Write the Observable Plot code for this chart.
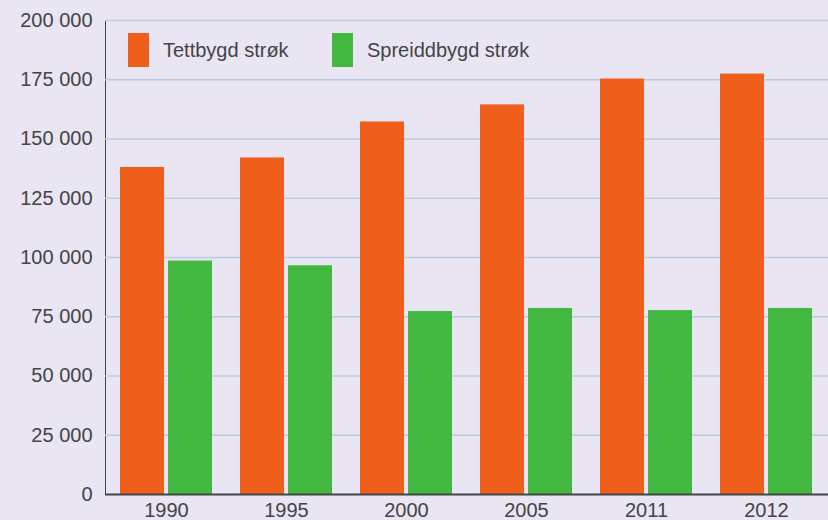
<!DOCTYPE html>
<html>
<head>
<meta charset="utf-8">
<script src="https://cdn.jsdelivr.net/npm/d3@7"></script>
<script src="https://cdn.jsdelivr.net/npm/@observablehq/plot@0.6"></script>
<style>
  html, body { margin: 0; padding: 0; background: #E9E5F3; }
  #wrap { position: relative; width: 828px; height: 520px; overflow: hidden; }
  .legend { position: absolute; top: 33px; display: flex; align-items: center; font-family: "Liberation Sans", Arial, sans-serif; font-size: 20px; color: #444; }
  .sw { width: 21px; height: 34px; margin-right: 14px; }
</style>
</head>
<body>
<div id="wrap"></div>
<script>
const years = ["1990", "1995", "2000", "2005", "2011", "2012"];
const seriesNames = ["Tettbygd strøk", "Spreiddbygd strøk"];
const tettbygd = [138000, 142000, 157200, 164400, 175300, 177400];
const spreiddbygd = [98500, 96500, 77200, 78500, 77600, 78500];
const yTicks = [0, 25000, 50000, 75000, 100000, 125000, 150000, 175000, 200000];
const colors = ["#F05E1C", "#43B840"];

const dataT = years.map((y, i) => ({year: y, value: tettbygd[i]}));
const dataS = years.map((y, i) => ({year: y, value: spreiddbygd[i]}));
const fmt = d => d3.format(",")(d).replace(/,/g, " ");

const chart = Plot.plot({
  width: 828,
  height: 520,
  marginLeft: 105,
  marginRight: 0,
  marginTop: 20,
  marginBottom: 26,
  style: {background: "#E9E5F3", fontFamily: "'Liberation Sans', Arial, sans-serif", fontSize: "20px", color: "#444", overflow: "visible"},
  x: {domain: years, paddingInner: 0.23, paddingOuter: 0.11, tickSize: 0, tickPadding: 8, label: null},
  y: {domain: [0, 200000], ticks: yTicks, tickFormat: fmt, tickSize: 0, tickPadding: 13, label: null, line: true},
  marks: [
    Plot.ruleY(yTicks.filter(d => d > 0), {stroke: "#BBCBE4", strokeWidth: 1.6}),
    Plot.barY(dataT, {x: "year", y: "value", fill: colors[0], insetRight: 48}),
    Plot.barY(dataS, {x: "year", y: "value", fill: colors[1], insetLeft: 48}),
    Plot.ruleY([0], {stroke: "#444", strokeWidth: 2})
  ]
});
const wrap = document.getElementById("wrap");
wrap.appendChild(chart);
const legendX = [128, 332];
seriesNames.forEach((name, i) => {
  const el = document.createElement("div");
  el.className = "legend";
  el.style.left = legendX[i] + "px";
  el.innerHTML = `<div class="sw" style="background:${colors[i]}"></div><span>${name}</span>`;
  wrap.appendChild(el);
});
</script>
</body>
</html>
